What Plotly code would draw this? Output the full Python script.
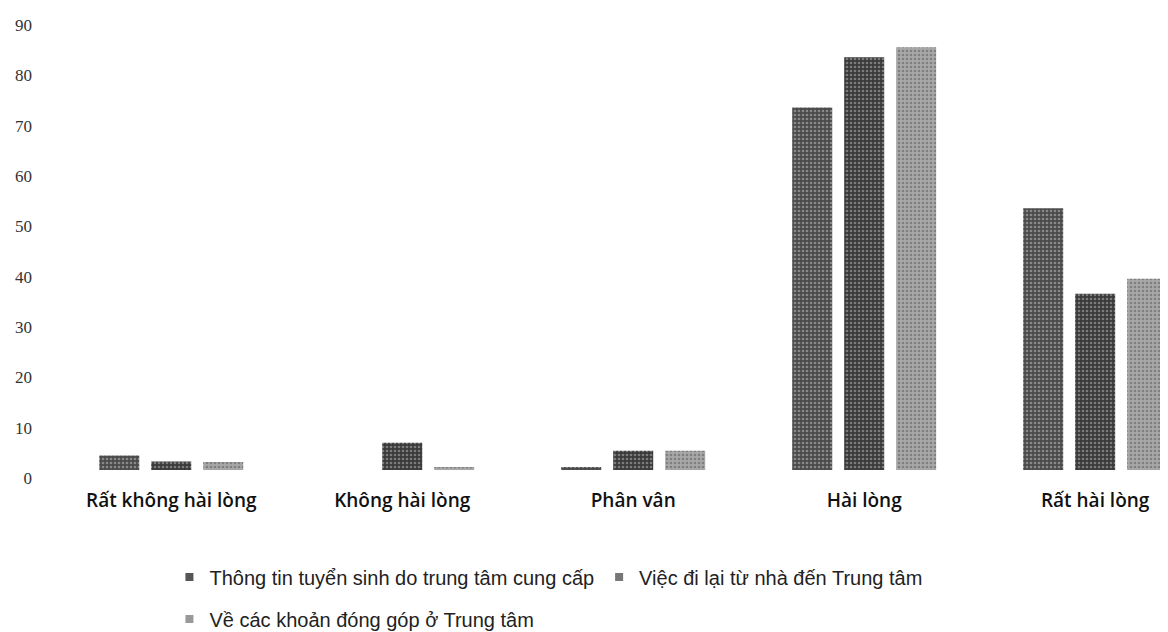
import plotly.graph_objects as go

categories = ["Rất không hài lòng", "Không hài lòng", "Phân vân", "Hài lòng", "Rất hài lòng"]
series_names = [
    "Thông tin tuyển sinh do trung tâm cung cấp",
    "Việc đi lại từ nhà đến Trung tâm",
    "Về các khoản đóng góp ở Trung tâm",
]
thong_tin = [2.9, 0, 0.6, 72, 52]
di_lai = [1.7, 5.4, 3.8, 82, 35]
dong_gop = [1.6, 0.6, 3.8, 84, 38]
y_ticks = [0, 10, 20, 30, 40, 50, 60, 70, 80, 90]

values = [thong_tin, di_lai, dong_gop]
base_colors = ["#4a4a4a", "#3a3a3a", "#a8a8a8"]
dot_colors = ["#c8c8c8", "#bdbdbd", "#555555"]
legend_colors = ["#555555", "#777777", "#999999"]
legend_ids = ["legend", "legend", "legend2"]

fig = go.Figure()
for name, vals, bc, dc in zip(series_names, values, base_colors, dot_colors):
    fig.add_trace(go.Bar(
        x=categories, y=vals, name=name, showlegend=False,
        marker=dict(color=bc, line=dict(width=0),
                    pattern=dict(shape=".", fgcolor=dc, size=4, solidity=0.35)),
    ))
for name, lc, lid in zip(series_names, legend_colors, legend_ids):
    fig.add_trace(go.Scatter(
        x=[None], y=[None], mode="markers", name=name, legend=lid,
        marker=dict(symbol="square", size=8, color=lc),
    ))

legend_font = dict(family="Liberation Sans, Arial, sans-serif", size=20, color="#222222")
fig.update_layout(
    width=1168, height=632,
    margin=dict(l=57, r=0, t=9, b=170, autoexpand=False),
    paper_bgcolor="white", plot_bgcolor="white",
    barmode="group", bargap=0.325, bargroupgap=0.23,
    legend=dict(orientation="h", x=0.094, xanchor="left", y=-0.193, yanchor="top",
                font=legend_font, itemwidth=30, bgcolor="rgba(0,0,0,0)"),
    legend2=dict(orientation="h", x=0.094, xanchor="left", y=-0.286, yanchor="top",
                 font=legend_font, itemwidth=30, bgcolor="rgba(0,0,0,0)"),
    xaxis=dict(range=[-0.46, 4.35], showgrid=False, showline=False, zeroline=False,
               ticks="", ticklabelstandoff=17, automargin=False,
               tickfont=dict(family="Open Sans, Liberation Sans, sans-serif", size=19,
                             color="#111111", weight=600)),
    yaxis=dict(range=[0, 90], tickvals=y_ticks, showgrid=False, showline=False,
               zeroline=False, ticks="", ticklabelstandoff=32, ticklabelshift=8,
               automargin=False,
               tickfont=dict(family="Liberation Serif, Times New Roman, serif", size=17,
                             color="#333333")),
)

fig.write_html("out.html")
